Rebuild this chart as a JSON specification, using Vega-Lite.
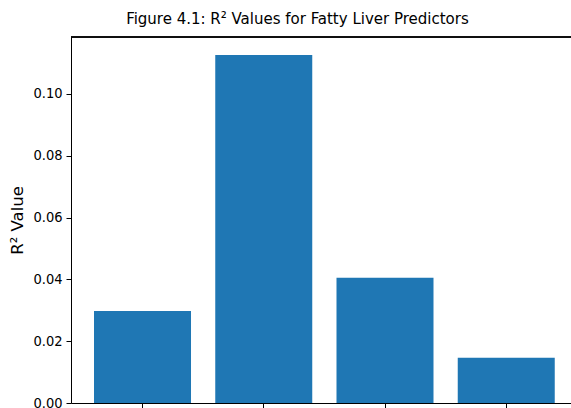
{
  "$schema": "https://vega.github.io/schema/vega-lite/v6.json",
  "autosize": {"type": "none"},
  "width": 500,
  "height": 366,
  "padding": {"left": 71, "top": 37, "right": 0, "bottom": 5},
  "config": {"view": {"stroke": null}, "font": "DejaVu Sans Condensed"},
  "title": {"text": "Figure 4.1: R² Values for Fatty Liver Predictors", "fontSize": 16.7, "fontWeight": "normal", "font": "DejaVu Sans Condensed", "color": "black", "anchor": "middle", "dx": -23.5, "offset": 9},
  "data": {"values": [
    {"predictor": "Predictor A", "r2": 0.0298},
    {"predictor": "Predictor B", "r2": 0.1126},
    {"predictor": "Predictor C", "r2": 0.0405},
    {"predictor": "Predictor D", "r2": 0.0146}
  ]},
  "layer": [
    {
      "mark": {"type": "bar", "color": "#1f77b4"},
      "encoding": {
        "x": {"field": "predictor", "type": "nominal", "sort": null,
          "scale": {"paddingInner": 0.2, "paddingOuter": 0.1619, "align": 0.586},
          "axis": {"title": null, "labels": false, "ticks": true, "tickSize": 5, "tickColor": "black", "domainColor": "black", "domainWidth": 1, "tickWidth": 1, "grid": false}},
        "y": {"field": "r2", "type": "quantitative",
          "scale": {"domain": [0, 0.1184], "nice": false, "zero": true},
          "axis": {"title": "R² Value", "values": [0, 0.02, 0.04, 0.06, 0.08, 0.1], "format": ".2f", "grid": false,
            "domainColor": "black", "domainWidth": 1, "tickColor": "black", "tickSize": 5, "tickWidth": 1,
            "labelFont": "DejaVu Sans Condensed", "labelFontSize": 14.5, "labelColor": "black", "labelPadding": 4,
            "titleFont": "DejaVu Sans", "titleFontSize": 16.5, "titleFontWeight": "normal", "titleColor": "black", "titlePadding": 7}}
      }
    },
    {
      "mark": {"type": "rule", "color": "black", "strokeWidth": 1},
      "encoding": {"y": {"datum": 0.1184}}
    }
  ]
}
